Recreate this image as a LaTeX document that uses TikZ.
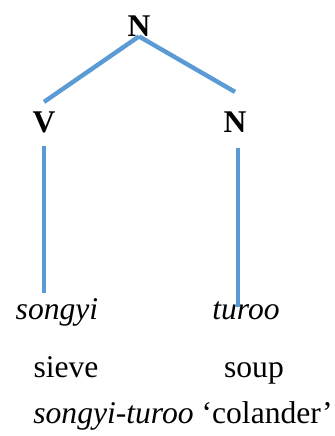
\documentclass[tikz,border=0pt]{standalone}
\usepackage{fontspec}
\setmainfont{Liberation Serif}
\usepackage{tikz}
\usetikzlibrary{positioning, calc}
\definecolor{trBranch}{HTML}{5B9BD5}
\tikzset{
  cat/.style={inner sep=0pt, anchor=base, font=\fontsize{15.8}{18}\selectfont\bfseries},
  word/.style={inner sep=0pt, anchor=base, font=\fontsize{15.8}{18}\selectfont},
  branch/.style={draw=trBranch, line width=2.2pt}
}
\begin{document}
\begin{tikzpicture}[x=0.5pt, y=-0.5pt]
  \useasboundingbox (0,0) rectangle (334,436);
  % categories
  \node[cat] (top) at (139,36) {N};
  \node[cat] (v) at (44,132) {V};
  \node[cat] (n2) at (235,132) {N};
  % words and glosses
  \node[word] (w1) at (57,319) {\itshape songyi};
  \node[word] (w2) at (246,319) {\itshape turoo};
  \node[word] (g1) at (66,377) {sieve};
  \node[word] (g2) at (254,377) {soup};
  \node[word] (cmp) at (183,423) {\textit{songyi-turoo} `colander'};
  % branches
  \draw[branch] (top.south) -- ([yshift=4.5pt]v.north);
  \draw[branch] (top.south) -- ([yshift=9.5pt]n2.north);
  \draw[branch] ([yshift=-6.5pt]v.south) -- ([yshift=13pt]v.south |- w1.base);
  \draw[branch] ([xshift=1.5pt, yshift=-8pt]n2.south) -- ([xshift=1.5pt, yshift=6pt]n2.south |- w2.base);
\end{tikzpicture}
\end{document}
